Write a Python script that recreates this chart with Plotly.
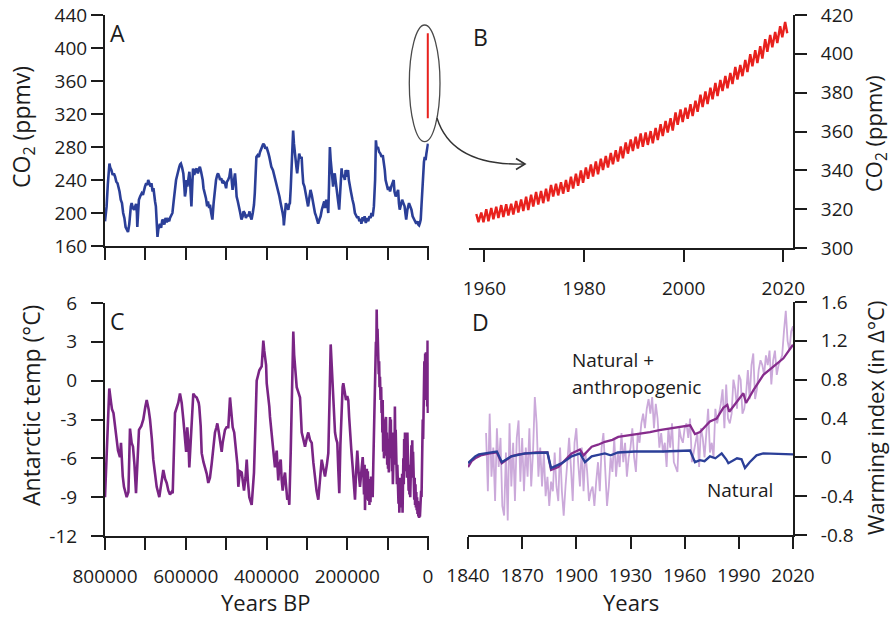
import plotly.graph_objects as go

W, H = 893, 619

# ---------------- data ----------------
# A: ice-core CO2 (age in thousand years BP, ppmv)
co2_age_ka = [800, 798, 796, 793, 791, 789, 787, 784, 781, 778, 775, 772, 769, 767, 764, 761, 758, 755, 752, 749,
              746, 743, 740, 738, 736, 734, 731, 728, 725, 723, 721, 720, 718, 716, 713, 709, 706, 703, 701, 698,
              695, 693, 690, 687, 685, 682, 680, 678, 676, 674, 672, 670, 668, 666, 664, 661, 658, 656, 653, 650,
              647, 644, 641, 639, 636, 633, 630, 627, 624, 621, 619, 616, 614, 612, 609, 606, 604, 602, 600, 598,
              596, 593, 591, 589, 587, 586, 584, 582, 579, 576, 573, 570, 567, 565, 562, 560, 558, 556, 553, 550,
              547, 545, 542, 540, 537, 534, 531, 528, 525, 522, 520, 517, 515, 512, 509, 506, 503, 500, 498, 495,
              492, 489, 486, 484, 481, 478, 476, 474, 471, 468, 465, 462, 459, 457, 454, 451, 448, 445, 442, 440,
              437, 434, 431, 429, 427, 425, 422, 419, 416, 413, 410, 408, 405, 403, 400, 397, 395, 393, 390, 388,
              384, 381, 379, 376, 374, 371, 368, 365, 362, 360, 358, 357, 355, 352, 349, 346, 344, 342, 340, 338,
              336, 334, 332, 330, 328, 326, 324, 322, 319, 316, 313, 311, 309, 306, 303, 300, 297, 294, 291, 288,
              286, 283, 280, 277, 274, 272, 269, 266, 263, 260, 257, 255, 252, 249, 247, 245, 243, 241, 239, 237,
              235, 233, 231, 228, 225, 222, 220, 218, 216, 214, 212, 209, 206, 204, 201, 198, 196, 194, 191, 187,
              184, 181, 178, 175, 173, 170, 167, 165, 162, 160, 157, 154, 151, 148, 145, 142, 140, 137, 134, 131,
              129, 127, 124, 121, 118, 115, 112, 110, 107, 105, 102, 99, 96, 94, 91, 88, 85, 83, 80, 77,
              74, 72, 70, 67, 64, 61, 58, 56, 54, 51, 49, 47, 44, 41, 38, 35, 32, 29, 26, 24,
              22, 20, 18, 16, 14, 12, 10, 8, 6, 4, 2, 0]
co2_ppm = [190, 200, 208, 235, 252, 260, 255, 252, 246, 248, 244, 238, 236, 232, 226, 216, 212, 200, 194, 183,
           180, 177, 186, 200, 208, 212, 206, 204, 210, 211, 200, 183, 200, 216, 220, 224, 222, 230, 232, 236,
           234, 240, 236, 232, 236, 226, 230, 218, 214, 208, 190, 171, 180, 184, 187, 182, 192, 191, 186, 194,
           189, 192, 190, 194, 198, 200, 214, 228, 240, 246, 252, 256, 259, 260, 255, 248, 236, 220, 226, 240,
           232, 244, 250, 236, 222, 208, 232, 254, 246, 252, 254, 248, 254, 256, 250, 246, 240, 230, 224, 218,
           208, 214, 206, 210, 200, 192, 212, 232, 240, 246, 248, 244, 240, 242, 236, 238, 236, 230, 238, 240,
           244, 254, 240, 228, 238, 248, 236, 220, 214, 208, 200, 192, 196, 202, 200, 194, 198, 196, 202, 196,
           192, 200, 210, 224, 246, 268, 270, 268, 274, 278, 280, 284, 282, 278, 280, 276, 272, 268, 262, 256,
           252, 246, 244, 238, 232, 228, 220, 212, 206, 200, 194, 185, 196, 212, 208, 204, 210, 212, 230, 248,
           270, 300, 284, 272, 262, 256, 248, 258, 272, 266, 268, 250, 236, 232, 224, 214, 208, 218, 228, 222,
           216, 206, 200, 196, 192, 187, 192, 196, 204, 208, 214, 206, 216, 210, 200, 236, 280, 264, 252, 240,
           232, 244, 248, 236, 220, 212, 204, 218, 240, 254, 244, 246, 240, 252, 244, 252, 240, 232, 226, 216,
           210, 200, 196, 194, 196, 190, 193, 187, 195, 190, 196, 188, 194, 190, 196, 194, 200, 196, 208, 240,
           288, 278, 280, 274, 272, 268, 270, 264, 252, 240, 232, 228, 232, 226, 232, 236, 240, 226, 220, 224,
           228, 212, 204, 210, 216, 212, 208, 200, 192, 204, 210, 212, 208, 204, 196, 192, 190, 187, 190, 186,
           185, 188, 192, 210, 232, 248, 262, 268, 264, 272, 278, 284]

# modern CO2 span shown at year 0 in panel A (ppmv)
modern_co2_range = [315, 418]

# B: Mauna Loa seasonal maxima (May) and minima (Sep/Oct), ppmv
keeling_years = list(range(1958, 2021))
keeling_max = [317.5, 318.3, 320.0, 320.6, 321.3, 322.1, 322.5, 322.8, 324.2, 325.0,
               326.4, 327.4, 328.9, 329.4, 330.5, 332.5, 333.1, 333.9, 335.0, 336.7,
               338.3, 339.9, 341.5, 343.0, 344.6, 346.0, 347.4, 348.9, 350.4, 352.3,
               354.4, 355.9, 357.3, 359.0, 359.5, 360.2, 361.8, 363.8, 365.4, 366.8,
               369.8, 371.4, 372.3, 374.0, 375.9, 378.9, 380.6, 382.6, 385.0, 386.5,
               388.6, 390.2, 393.2, 394.2, 396.8, 399.8, 401.9, 403.9, 407.6, 409.7,
               411.3, 414.2, 416.4]
keeling_min = [313.3, 313.3, 313.8, 314.8, 315.4, 316.0, 316.7, 317.2, 318.3, 319.1,
               319.6, 321.3, 322.4, 323.1, 324.1, 326.5, 327.1, 328.0, 328.9, 330.6,
               332.1, 333.6, 335.7, 336.8, 338.0, 340.2, 341.5, 343.1, 344.5, 346.2,
               348.6, 350.0, 351.2, 352.1, 353.1, 353.9, 355.6, 357.7, 359.5, 360.5,
               363.5, 364.9, 366.6, 368.0, 370.1, 372.6, 374.1, 376.6, 378.3, 380.8,
               382.3, 384.4, 386.8, 388.5, 390.6, 393.6, 395.3, 397.6, 401.0, 403.4,
               405.6, 408.5, 410.6]

# C: Antarctic temperature anomaly (age in thousand years BP, deg C)
temp_age_ka = [800, 797, 793, 789.4, 785, 782.7, 779, 775.3, 771, 767.8, 763, 760.4, 756, 753, 746.3, 742, 738.1, 734,
               730.7, 727, 723.2, 719, 715.8, 710, 705.1, 700, 696.7, 692, 688.5, 684, 680.4, 676, 672, 665.5, 660,
               655.6, 651, 647.2, 643, 639, 635, 632.3, 626.6, 622, 618.5, 614.3, 610.1, 606, 601.9, 599, 596.2, 593,
               591.2, 587.8, 584, 581.3, 577, 572.9, 568, 566.5, 563, 560.5, 556, 552.3, 548, 544.2, 540, 535.7, 531,
               527.6, 524, 521.8, 518, 515.2, 511, 508.5, 505, 502.8, 499, 494.6, 490.4, 487, 483.7, 480, 475.5, 472,
               469.8, 466, 461.4, 458, 455.7, 452, 449, 446, 442.6, 436.7, 433, 431, 427, 424.3, 421, 417.8, 414,
               411.9, 409, 407.9, 405.5, 403.7, 401, 399.5, 397, 395.5, 393, 391.3, 388, 384.6, 382, 379, 376.5,
               374.7, 372.5, 370.8, 368, 364.8, 362.5, 359.9, 357, 354.2, 351, 348.5, 345, 343.5, 340, 337.6, 333.6,
               331.5, 329.4, 327, 325.2, 321, 317, 315, 312.8, 309, 304.6, 300, 296.5, 292, 288, 284, 279.9, 276,
               271.7, 268, 263.3, 259, 255.1, 250.5, 246.9, 243.5, 241, 238.5, 236, 233, 230.3, 227.5, 224.6, 222,
               219.7, 217, 213.7, 211.5, 209.8, 207, 203.1, 200, 197.4, 195.3, 193.2, 190, 186.5, 183.5, 180.8, 178,
               175.1, 172, 168.4, 165, 161.7,
               160, 158.5, 157, 156, 154.5, 153, 151.5, 150.3, 149, 147.5, 146, 145, 143.7, 142.5, 141, 140, 138.5,
               137, 135.5, 134.5, 133, 132, 131.3, 130, 129, 128, 127.1, 126, 125, 124, 123.1, 122, 121, 120, 118.9,
               117.5, 116, 115, 114, 113, 112.2, 111, 110, 109, 108.2, 107, 106, 105, 104, 103, 102, 101, 100, 99,
               98, 97, 96, 95, 94, 93, 92, 91, 90, 89, 88, 87, 86, 85, 84, 83, 82, 81, 80, 79, 78, 77, 76, 75, 74,
               73, 72, 71, 70, 69, 68, 67, 66, 65, 64, 63, 62, 61, 60, 59, 58, 57, 56, 55, 54, 53, 52, 51, 50, 49,
               48, 47, 46, 45, 44, 43, 42, 41, 40, 39, 38, 37, 36, 35, 34, 33, 32, 31, 30, 29, 28, 27, 26, 25, 24,
               23, 22, 21, 20, 19, 18, 17, 16, 15, 14, 13, 12, 11, 10, 9, 8, 7, 6, 5, 4, 3, 2, 1, 0.3]
temp_c = [-9.0, -6.9, -3.0, -0.6, -1.7, -2.2, -2.5, -3.6, -4.6, -5.4, -5.9, -4.8, -7.4, -8.2, -9.0, -8.6, -3.7, -4.8,
          -5.1, -6.5, -8.7, -5.5, -3.8, -3.5, -3.0, -2.0, -1.5, -2.2, -3.0, -4.5, -6.1, -7.2, -8.2, -9.0, -7.8,
          -6.9, -7.6, -7.9, -8.5, -8.8, -8.6, -8.7, -2.5, -2.0, -1.7, -1.0, -1.7, -3.0, -4.6, -5.5, -3.6, -5.0,
          -6.7, -4.6, -2.5, -1.0, -1.2, -1.3, -1.7, -2.0, -3.5, -5.6, -6.3, -6.7, -7.2, -7.9, -7.5, -6.4, -5.0,
          -4.0, -3.6, -3.3, -4.0, -4.6, -5.5, -4.8, -4.2, -3.8, -3.6, -3.6, -1.3, -2.5, -3.6, -4.0, -5.4, -6.5,
          -8.2, -7.0, -7.1, -8.0, -8.5, -7.5, -6.1, -7.8, -9.0, -9.6, -8.0, -7.1, -3.0, 0.0, 0.4, 0.8, 1.0,
          1.1, 2.5, 3.1, 2.3, 1.8, 1.2, -0.2, -0.8, -1.0, -2.0, -2.8, -3.8, -4.8, -5.8, -6.7, -5.8,
          -5.4, -6.8, -7.7, -6.5, -6.1, -7.6, -8.5, -7.6, -7.1, -8.3, -9.2, -9.0, -9.6, -5.5, -1.5, 3.8,
          2.0, 1.1, 0.2, -0.5, -0.9, -1.3, -2.5, -4.0, -4.5, -5.1, -4.4, -4.0, -4.6, -4.8, -6.3, -7.7, -8.5,
          -9.2, -7.5, -6.1, -6.8, -7.4, -6.5, -5.6, -1.0, 2.8, 1.2, -0.2, -2.0, -4.0, -4.5, -4.8, -7.0,
          -8.7, -5.0, -1.0, -0.5, -0.2, -0.8, -1.5, -1.2, -1.5, -2.8, -4.0, -5.3, -6.7, -8.0, -9.2, -7.0,
          -5.4, -7.0, -8.2, -7.0, -5.9,
          -7.0, -8.8, -6.5, -10.0, -7.5, -9.2, -6.8, -8.6, -7.0, -9.3, -7.6, -9.6, -8.0, -9.4, -7.4, -8.8, -7.7,
          -9.0, -6.5, -5.0, -2.0, -3.0, -1.5, 1.0, 3.0, 2.0, 5.5, 3.0, 4.0, 1.5, 2.9, 0.5, 1.5, -0.5, 0.3,
          -1.5, -0.5, -2.5, -1.5, -4.0, -1.5, -5.5, -3.5, -6.0, -5.4, -3.0, -5.8, -3.0, -2.8, -5.5, -4.0, -6.5, -4.5, -6.8,
          -5.0, -7.1, -3.5, -5.5, -2.8, -5.0, -3.0, -6.0, -4.0, -7.0, -5.5, -8.0, -5.0, -7.5, -4.0, -6.5, -2.0, -5.0, -3.8, -6.5, -5.0, -8.0, -6.5, -9.0, -7.0,
          -9.5, -7.5, -10.2, -8.0, -9.5, -7.5, -9.8, -8.0, -9.8, -7.2, -10.2, -8.5, -6.0, -8.0, -4.5, -6.5, -4.0, -7.0, -4.2, -6.5, -4.5, -7.5, -4.0, -7.0, -5.5,
          -8.5, -6.5, -8.8, -7.0, -9.0, -6.0, -8.2, -5.0, -7.5, -4.6, -7.0, -5.5, -8.5, -7.0, -9.2, -7.5, -9.6, -8.0, -9.8, -8.6, -10.0, -9.0, -10.3, -9.3, -10.5,
          -9.5, -10.6, -9.8, -10.5, -9.6, -10.2, -8.5, -9.0, -6.0, -7.0, -3.0, -4.5, -0.5, -2.0, 1.5, -0.5, 2.1, -1.0, 2.2, -1.5, 1.5, -2.0, 3.1, -2.5]

# D: warming index (deg C)
wi_years = list(range(1850, 2022))
wi_observed = [0.25, -0.35, 0.45, -0.2, 0.1, -0.45, 0.3, -0.1, 0.2, -0.5,
               -0.6, 0.05, -0.65, 0.35, -0.3, 0.15, -0.45, 0.2, 0.38, -0.25,
               0.2, -0.35, 0.1, -0.2, 0.3, -0.3, 0.05, 0.62, 0.35, -0.2,
               0.1, -0.3, 0.05, -0.4, -0.2, -0.5, -0.25, -0.35, 0.05, -0.3,
               -0.45, 0.1, -0.35, -0.6, -0.3, 0.0, 0.2, -0.1, -0.45, 0.15,
               0.3, -0.05, -0.3, 0.1, -0.35, 0.05, -0.15, -0.45, -0.35, -0.3,
               -0.5, -0.25, -0.05, -0.35, 0.1, 0.25, -0.2, -0.5, -0.3, 0.0,
               -0.15, 0.2, -0.2, 0.05, -0.1, 0.25, -0.05, 0.15, -0.2, 0.0,
               0.1, 0.3, 0.0, -0.15, 0.25, 0.15, 0.35, 0.45, 0.3, 0.5,
               0.6, 0.45, 0.62, 0.3, 0.55, 0.4, 0.1, 0.25, 0.05, 0.15,
               -0.1, 0.3, 0.1, 0.35, -0.05, -0.1, -0.15, 0.3, 0.2, 0.15,
               0.3, 0.35, 0.2, 0.4, -0.05, 0.05, 0.15, 0.25, -0.1, 0.3,
               0.2, 0.0, 0.25, 0.5, 0.05, 0.15, 0.0, 0.5, 0.35, 0.45,
               0.55, 0.7, 0.3, 0.75, 0.4, 0.35, 0.45, 0.8, 0.7, 0.5,
               0.85, 0.8, 0.45, 0.5, 0.65, 0.9, 0.6, 0.95, 1.07, 0.6,
               0.7, 0.9, 1.0, 0.95, 0.85, 1.05, 0.95, 1.1, 0.75, 1.0,
               1.1, 0.85, 0.95, 1.0, 1.05, 1.3, 1.51, 1.2, 1.1, 1.3,
               1.35, 1.1]

total_years = [1840, 1842, 1844, 1847, 1852, 1856, 1858.7, 1861, 1864, 1868, 1872, 1878, 1884, 1886, 1890,
               1894, 1897.4, 1902, 1904, 1908.5, 1912, 1915.8, 1920, 1923.2, 1930.6, 1935, 1940.8, 1946,
               1951.9, 1959.3, 1963, 1965.7, 1968.5, 1974, 1977.7, 1981.4, 1983.6, 1984.7, 1988.8, 1992.5,
               1994, 1998, 2003.6, 2009.1, 2014.7, 2020]
total_index = [-0.10, -0.04, -0.01, 0.02, 0.04, 0.05, -0.06, -0.03, 0.01, 0.03, 0.04, 0.05, 0.05, -0.13, -0.10,
               -0.03, 0.04, 0.08, 0.02, 0.11, 0.13, 0.16, 0.18, 0.21, 0.23, 0.24, 0.26, 0.28,
               0.30, 0.32, 0.33, 0.24, 0.26, 0.37, 0.40, 0.51, 0.54, 0.47, 0.57, 0.66,
               0.56, 0.69, 0.85, 0.93, 1.02, 1.16]

natural_years = [1840, 1842, 1844, 1846, 1852, 1856, 1858.7, 1864, 1871.6, 1884, 1886, 1892, 1897.4, 1902,
                 1904.8, 1908.5, 1915.8, 1919, 1923, 1932.5, 1948, 1961, 1963, 1965.7, 1968.5, 1971, 1974,
                 1977, 1979.5, 1980.5, 1983, 1984.2, 1989, 1991.5, 1993.4, 1996, 1999.8, 2003.5, 2020]
natural_index = [-0.06, -0.02, 0.01, 0.03, 0.05, 0.06, -0.05, 0.01, 0.04, 0.05, -0.11, -0.06, 0.01, 0.04,
                 -0.05, 0.01, 0.04, 0.02, 0.05, 0.06, 0.06, 0.07, 0.07, -0.05, -0.03, -0.04, 0.01,
                 -0.01, 0.03, 0.04, -0.02, -0.06, -0.01, -0.02, -0.11, -0.05, 0.02, 0.04, 0.03]

# ---------------- styling ----------------
INK = "#1c1c1c"
BLUE = "#2b3f98"
PURPLE = "#7a2585"
PURPLE_D = "#862c8c"
LAVENDER = "#cba9da"
RED = "#e8211d"
FONT = "Open Sans"
TICK_SIZE = 19


def px_x(p):
    return p / W


def px_y(p):
    return 1 - p / H


fig = go.Figure()

# A: ice-core CO2
fig.add_trace(go.Scatter(x=[a * 1000 for a in co2_age_ka], y=co2_ppm, mode="lines",
                         line=dict(color=BLUE, width=2.6), xaxis="x", yaxis="y"))
fig.add_trace(go.Scatter(x=[0, 0], y=modern_co2_range, mode="lines",
                         line=dict(color=RED, width=2.4), xaxis="x", yaxis="y"))

# B: Keeling curve (seasonal max in May, min in autumn)
k_t, k_v = [], []
for yr, hi, lo in zip(keeling_years, keeling_max, keeling_min):
    k_t += [yr + 0.37, yr + 0.8]
    k_v += [hi, lo]
fig.add_trace(go.Scatter(x=k_t, y=k_v, mode="lines", line=dict(color=RED, width=2.4),
                         xaxis="x2", yaxis="y2"))

# C: Antarctic temperature
fig.add_trace(go.Scatter(x=[a * 1000 for a in temp_age_ka], y=temp_c, mode="lines",
                         line=dict(color=PURPLE, width=2.6), xaxis="x3", yaxis="y3"))

# D: warming index
fig.add_trace(go.Scatter(x=wi_years, y=wi_observed, mode="lines",
                         line=dict(color=LAVENDER, width=1.8), xaxis="x4", yaxis="y4"))
fig.add_trace(go.Scatter(x=total_years, y=total_index, mode="lines",
                         line=dict(color=PURPLE_D, width=2.3), xaxis="x4", yaxis="y4"))
fig.add_trace(go.Scatter(x=natural_years, y=natural_index, mode="lines",
                         line=dict(color=BLUE, width=2.3), xaxis="x4", yaxis="y4"))

axis_common = dict(showline=True, linecolor=INK, linewidth=2, ticks="outside", ticklen=12,
                   tickwidth=2, tickcolor=INK, showgrid=False, zeroline=False, automargin=False,
                   tickfont=dict(family=FONT, size=TICK_SIZE, color=INK))

minor_age = dict(tickvals=[100000, 300000, 500000, 700000], ticks="outside", ticklen=12,
                 tickwidth=2, tickcolor=INK, showgrid=False)

fig.update_layout(
    template="none",
    width=W, height=H, margin=dict(l=0, r=0, t=0, b=0, pad=0),
    paper_bgcolor="white", plot_bgcolor="white", showlegend=False,
    font=dict(family=FONT, size=TICK_SIZE, color=INK),
    xaxis=dict(axis_common, domain=[px_x(105), px_x(428.8)], range=[800000, -2000], anchor="y",
               tickvals=[0, 200000, 400000, 600000, 800000], minor=minor_age, showticklabels=False),
    yaxis=dict(axis_common, domain=[px_y(246), px_y(15)], range=[160, 440], anchor="x",
               tickvals=list(range(160, 441, 40)), ticklabelstandoff=0),
    xaxis2=dict(axis_common, domain=[px_x(469), px_x(793)], range=[1956.9, 2021.95], anchor="y2",
                tickvals=[1960, 1980, 2000, 2020], ticklabelstandoff=10),
    yaxis2=dict(axis_common, domain=[px_y(248), px_y(15)], range=[300, 420], anchor="x2", side="right",
                tickvals=list(range(300, 421, 20)), ticklabelstandoff=10),
    xaxis3=dict(axis_common, domain=[px_x(105), px_x(428.8)], range=[800000, -2000], anchor="y3",
                tickvals=[0, 200000, 400000, 600000, 800000],
                ticktext=["0", "200000", "400000", "600000", "800000"],
                minor=minor_age, ticklabelstandoff=10),
    yaxis3=dict(axis_common, domain=[px_y(536), px_y(303)], range=[-12, 6], anchor="x3",
                tickvals=list(range(-12, 7, 3)),
                ticktext=[str(v) for v in range(-12, 7, 3)], ticklabelstandoff=10),
    xaxis4=dict(axis_common, domain=[px_x(468), px_x(793)], range=[1840, 2020], anchor="y4",
                tickvals=list(range(1840, 2021, 30)), ticklabelstandoff=10),
    yaxis4=dict(axis_common, domain=[px_y(535), px_y(302)], range=[-0.8, 1.6], anchor="x4", side="right",
                tickvals=[-0.8, -0.4, 0, 0.4, 0.8, 1.2, 1.6],
                ticktext=["-0.8", "-0.4", "0", "0.4", "0.8", "1.2", "1.6"], ticklabelstandoff=10),
)

# ellipse around the modern CO2 span and the connecting arrow
fig.add_shape(type="circle", xref="paper", yref="paper",
              x0=px_x(409.3), x1=px_x(440), y0=px_y(141.7), y1=px_y(25),
              line=dict(color="#4a4a4a", width=1.3))


def path(points, cmd):
    return cmd.format(*[f"{px_x(a):.5f},{px_y(b):.5f}" for a, b in points])


fig.add_shape(type="path", xref="paper", yref="paper",
              path=path([(437, 118), (452, 166), (524, 164)], "M {} Q {} {}"),
              line=dict(color="#333333", width=1.4))
fig.add_shape(type="path", xref="paper", yref="paper",
              path=path([(516, 158.5), (525, 164), (516, 169.5)], "M {} L {} L {}"),
              line=dict(color="#333333", width=1.6))


# text labels
def label(x, y, text, size, angle=0, xanchor="center"):
    fig.add_annotation(x=px_x(x), y=px_y(y), xref="paper", yref="paper", text=text,
                       showarrow=False, textangle=angle, xanchor=xanchor, yanchor="middle",
                       font=dict(family=FONT, size=size, color=INK))


label(118, 33, "A", 23)
label(480, 37, "B", 23)
label(118, 321, "C", 23)
label(480, 322, "D", 23)
label(22, 127, "CO<sub>2</sub> (ppmv)", 23, -90)
label(875, 134, "CO<sub>2</sub> (ppmv)", 22, -90)
label(31, 406, "Antarctic temp (°C)", 23, -90)
label(875, 418, "Warming index (in Δ°C)", 22, -90)
label(266, 602, "Years BP", 22)
label(631, 602, "Years", 22)
label(570, 360, "Natural +", 19, xanchor="left")
label(570, 387, "anthropogenic", 19, xanchor="left")
label(740, 490, "Natural", 19)

fig.write_html("out.html")
